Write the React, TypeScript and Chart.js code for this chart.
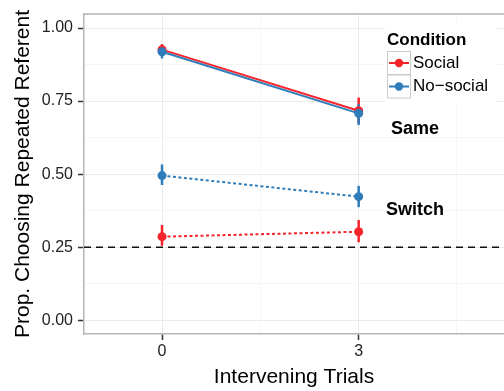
import React, { useEffect, useRef } from 'react';
import { Chart, registerables } from 'chart.js';

Chart.register(...registerables);

// ---- data ----
const trials = [0, 3];
const socialSame = [0.926, 0.717];
const socialSameLo = [0.905, 0.675];
const socialSameHi = [0.945, 0.762];
const noSocialSame = [0.919, 0.708];
const noSocialSameLo = [0.896, 0.668];
const noSocialSameHi = [0.935, 0.74];
const socialSwitch = [0.286, 0.303];
const socialSwitchLo = [0.255, 0.267];
const socialSwitchHi = [0.326, 0.343];
const noSocialSwitch = [0.495, 0.423];
const noSocialSwitchLo = [0.463, 0.387];
const noSocialSwitchHi = [0.533, 0.46];
const chanceLevel = 0.25;
const yMajorTicks = [0, 0.25, 0.5, 0.75, 1];
const yMinorTicks = [0.125, 0.375, 0.625, 0.875];
const xMajorTicks = [0, 3];
const xMinorTicks = [1.5, 4.5];
const xLimits = [-1.19, 5.217];
const yLimits = [-0.047, 1.048];
const legendTitle = 'Condition';
const legendLabels = ['Social', 'No\u2212social'];
const annotationTexts = ['Same', 'Switch'];
const annotationX = [3.86, 3.86];
const annotationY = [0.654, 0.377];
const xTitle = 'Intervening Trials';
const yTitle = 'Prop. Choosing Repeated Referent';

const RED = '#F8242C';
const BLUE = '#2E7DBA';
const FONT = '"Liberation Sans", Arial, Helvetica, sans-serif';

const toPts = (ys: number[]) => trials.map((t, i) => ({ x: t, y: ys[i] }));

const errorBarPlugin = {
  id: 'errorBars',
  beforeDatasetsDraw(chart: any) {
    const { ctx, scales } = chart;
    const x = scales.x;
    const y = scales.y;
    const groups = [
      { color: RED, lo: socialSameLo, hi: socialSameHi },
      { color: RED, lo: socialSwitchLo, hi: socialSwitchHi },
      { color: BLUE, lo: noSocialSameLo, hi: noSocialSameHi },
      { color: BLUE, lo: noSocialSwitchLo, hi: noSocialSwitchHi },
    ];
    ctx.save();
    ctx.lineWidth = 2.5;
    groups.forEach((g) => {
      ctx.strokeStyle = g.color;
      trials.forEach((t, i) => {
        const px = x.getPixelForValue(t);
        ctx.beginPath();
        ctx.moveTo(px, y.getPixelForValue(g.lo[i]));
        ctx.lineTo(px, y.getPixelForValue(g.hi[i]));
        ctx.stroke();
      });
    });
    ctx.restore();
  },
};

const decorPlugin = {
  id: 'decor',
  beforeDatasetsDraw(chart: any) {
    const { ctx, chartArea } = chart;
    ctx.save();
    ctx.strokeStyle = '#B5B5B5';
    ctx.lineWidth = 1.5;
    ctx.beginPath();
    ctx.moveTo(chartArea.left, chartArea.top);
    ctx.lineTo(chartArea.right, chartArea.top);
    ctx.stroke();
    ctx.restore();
  },
  afterDraw(chart: any) {
    const { ctx, scales } = chart;
    const x = scales.x;
    const y = scales.y;
    ctx.save();
    // annotations
    ctx.fillStyle = '#000';
    ctx.font = `bold 18px ${FONT}`;
    ctx.textAlign = 'center';
    ctx.textBaseline = 'middle';
    annotationTexts.forEach((t, i) => {
      ctx.fillText(t, x.getPixelForValue(annotationX[i]), y.getPixelForValue(annotationY[i]));
    });
    // legend
    const lx = 387;
    const ly = 24;
    ctx.fillStyle = '#FFFFFF';
    ctx.fillRect(lx - 2, ly - 2, 111, 81);
    ctx.fillStyle = '#000';
    ctx.textAlign = 'left';
    ctx.font = `bold 17px ${FONT}`;
    ctx.fillText(legendTitle, lx, ly + 16);
    const colors = [RED, BLUE];
    legendLabels.forEach((lab, i) => {
      const top = ly + 27 + i * 23.5;
      ctx.strokeStyle = '#CCCCCC';
      ctx.lineWidth = 1;
      ctx.strokeRect(lx + 0.5, top + 0.5, 23, 23);
      const cy = top + 12;
      ctx.strokeStyle = colors[i];
      ctx.lineWidth = 2;
      ctx.beginPath();
      ctx.moveTo(lx + 2, cy);
      ctx.lineTo(lx + 22, cy);
      ctx.stroke();
      ctx.fillStyle = colors[i];
      ctx.beginPath();
      ctx.arc(lx + 12, cy, 4.2, 0, Math.PI * 2);
      ctx.fill();
      ctx.fillStyle = '#000';
      ctx.font = `17px ${FONT}`;
      ctx.fillText(lab, lx + 26, cy);
    });
    ctx.restore();
  },
};

export default function App() {
  const canvasRef = useRef<HTMLCanvasElement | null>(null);

  useEffect(() => {
    document.body.style.margin = '0';
    const canvas = canvasRef.current;
    if (!canvas) return;
    const lineDs = (label: string, ys: number[], color: string, dash: number[]) => ({
      label,
      data: toPts(ys),
      borderColor: color,
      backgroundColor: color,
      borderWidth: 2,
      borderDash: dash,
      pointRadius: 4.5,
      pointBorderWidth: 0,
      pointBackgroundColor: color,
      pointHoverRadius: 4.5,
      tension: 0,
      fill: false,
    });
    const chart = new Chart(canvas, {
      type: 'line',
      data: {
        datasets: [
          lineDs('No-social Same', noSocialSame, BLUE, []),
          lineDs('Social Same', socialSame, RED, []),
          lineDs('No-social Switch', noSocialSwitch, BLUE, [3, 2.5]),
          lineDs('Social Switch', socialSwitch, RED, [3, 2.5]),
          {
            label: 'Chance',
            data: [
              { x: xLimits[0], y: chanceLevel },
              { x: xLimits[1], y: chanceLevel },
            ],
            borderColor: '#111',
            borderWidth: 1.5,
            borderDash: [7, 5],
            pointRadius: 0,
            fill: false,
          },
        ] as any,
      },
      options: {
        responsive: false,
        animation: false,
        devicePixelRatio: 1,
        layout: { autoPadding: false, padding: { top: 14, right: 0, left: 0, bottom: 0 } },
        plugins: {
          legend: { display: false },
          tooltip: { enabled: false },
        },
        scales: {
          x: {
            type: 'linear',
            min: xLimits[0],
            max: xLimits[1],
            afterBuildTicks: (scale: any) => {
              scale.ticks = [...xMajorTicks, ...xMinorTicks]
                .sort((a, b) => a - b)
                .map((v) => ({ value: v }));
            },
            afterFit: (scale: any) => {
              scale.height = 57;
              scale.paddingLeft = 0;
              scale.paddingRight = 0;
            },
            ticks: {
              autoSkip: false,
              maxRotation: 0,
              padding: 2,
              color: '#222',
              font: { family: FONT, size: 16 },
              callback: (v: any) => (xMajorTicks.includes(v) ? String(v) : ''),
            },
            grid: {
              drawTicks: true,
              tickLength: 6,
              lineWidth: 1,
              color: (c: any) => (xMajorTicks.includes(c.tick?.value) ? '#EBEBEB' : '#F5F5F5'),
              tickColor: (c: any) => (xMajorTicks.includes(c.tick?.value) ? '#333' : 'rgba(0,0,0,0)'),
              tickWidth: 1.5,
            },
            border: { display: true, color: '#B5B5B5', width: 1.5 },
            title: {
              display: true,
              text: xTitle,
              color: '#000',
              font: { family: FONT, size: 21 },
              padding: { top: 0, bottom: 1 },
            },
          },
          y: {
            type: 'linear',
            min: yLimits[0],
            max: yLimits[1],
            afterBuildTicks: (scale: any) => {
              scale.ticks = [...yMajorTicks, ...yMinorTicks]
                .sort((a, b) => a - b)
                .map((v) => ({ value: v }));
            },
            afterFit: (scale: any) => {
              scale.width = 84;
              scale.paddingTop = 0;
              scale.paddingBottom = 0;
            },
            ticks: {
              autoSkip: false,
              padding: 5,
              color: '#222',
              font: { family: FONT, size: 16 },
              callback: (v: any) => (yMajorTicks.includes(v) ? Number(v).toFixed(2) : ''),
            },
            grid: {
              drawTicks: true,
              tickLength: 6,
              lineWidth: 1,
              color: (c: any) => (yMajorTicks.includes(c.tick?.value) ? '#EBEBEB' : '#F5F5F5'),
              tickColor: (c: any) => (yMajorTicks.includes(c.tick?.value) ? '#333' : 'rgba(0,0,0,0)'),
              tickWidth: 1.5,
            },
            border: { display: true, color: '#B5B5B5', width: 1.5 },
            title: {
              display: true,
              text: yTitle,
              color: '#000',
              font: { family: FONT, size: 21 },
              padding: { top: 11, bottom: 0 },
            },
          },
        },
      } as any,
      plugins: [errorBarPlugin, decorPlugin],
    });
    return () => chart.destroy();
  }, []);

  return (
    <div style={{ width: 504, height: 391 }}>
      <canvas ref={canvasRef} width={504} height={391} style={{ display: 'block' }} />
    </div>
  );
}
